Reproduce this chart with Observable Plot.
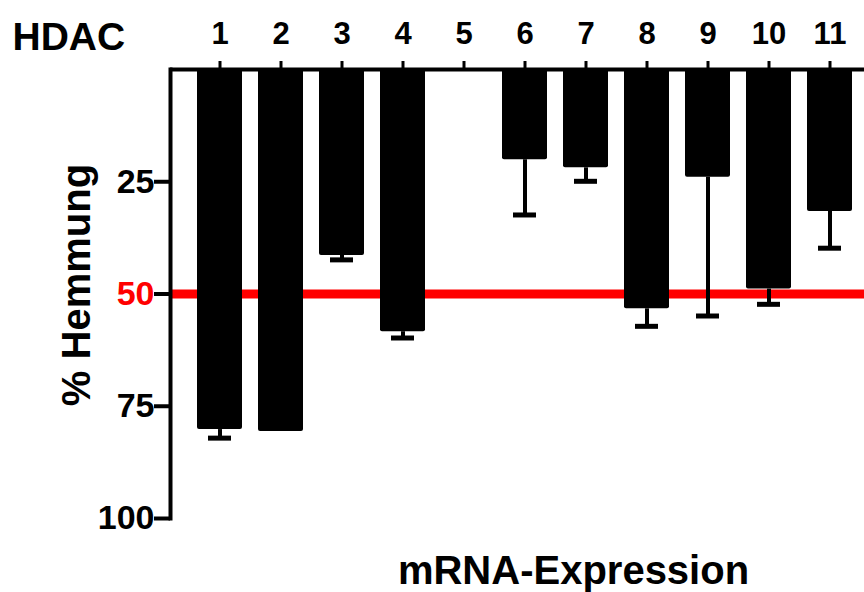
<!DOCTYPE html>
<html>
<head>
<meta charset="utf-8">
<script src="https://cdn.jsdelivr.net/npm/d3@7"></script>
<script src="https://cdn.jsdelivr.net/npm/@observablehq/plot@0.6"></script>
<style>
  html, body { margin: 0; padding: 0; background: #fff; }
</style>
</head>
<body>
<div id="chart"></div>
<script>
// HDAC isoforms along the top axis
const hdac = ["1", "2", "3", "4", "5", "6", "7", "8", "9", "10", "11"];
// mean inhibition of mRNA expression (%)
const hemmung = [80.2, 80.6, 41.4, 58.4, 0, 20.1, 21.9, 53.3, 24.0, 48.9, 31.6];
// error (one-sided, drawn below each bar)
const sem = [1.9, 0, 1.0, 1.4, 0, 12.3, 3.0, 3.9, 30.9, 3.4, 8.2];
const yTicks = [25, 50, 75, 100];
const threshold = 50;

const rows = hdac.map((h, i) => ({hdac: h, value: hemmung[i], err: sem[i]}));
const bars = rows.filter(d => d.value > 0);
const errs = rows.filter(d => d.err > 0);

const bold = {fontWeight: "bold"};

const chart = Plot.plot({
  width: 864,
  height: 592,
  marginLeft: 170,
  marginRight: 0,
  marginTop: 69,
  marginBottom: 74,
  style: {fontFamily: "'Liberation Sans', Arial, Helvetica, sans-serif", background: "white", color: "black"},
  x: {type: "band", domain: hdac, range: [185, 864], paddingInner: 0.26, paddingOuter: 0.13},
  y: {domain: [0, 100], range: [69, 518]},
  marks: [
    Plot.ruleY([threshold], {stroke: "#ff0000", strokeWidth: 9}),
    Plot.barY(bars, {x: "hdac", y1: 0, y2: "value", fill: "black", rx: 2}),
    Plot.ruleX(errs, {x: "hdac", y1: "value", y2: d => d.value + d.err, stroke: "black", strokeWidth: 4}),
    Plot.tickY(errs, {x: "hdac", y: d => d.value + d.err, stroke: "black", strokeWidth: 5, insetLeft: 11, insetRight: 11}),
    Plot.ruleY([0], {stroke: "black", strokeWidth: 4}),
    Plot.frame({anchor: "left", stroke: "black", strokeWidth: 4}),
    Plot.axisX({anchor: "top", tickSize: 9, strokeWidth: 3, tickPadding: 17, fontSize: 31, ...bold, label: null}),
    Plot.axisY({anchor: "left", ticks: yTicks, tickSize: 16, strokeWidth: 4, tickFormat: () => "", label: null}),
    Plot.text(yTicks.filter(t => t !== threshold), {y: d => d, text: d => `${d}`, frameAnchor: "left", dx: -16, textAnchor: "end", lineAnchor: "middle", fontSize: 34, fill: "black", ...bold}),
    Plot.text([threshold], {y: d => d, text: d => `${d}`, frameAnchor: "left", dx: -16, textAnchor: "end", lineAnchor: "middle", fontSize: 34, fill: "#ff0000", ...bold}),
    Plot.text(["HDAC"], {text: d => d, frameAnchor: "top-left", dx: -158, dy: -32, textAnchor: "start", lineAnchor: "middle", fontSize: 39, ...bold}),
    Plot.text(["% Hemmung"], {text: d => d, frameAnchor: "left", dx: -93, dy: -9, rotate: -90, textAnchor: "middle", lineAnchor: "middle", fontSize: 40, ...bold}),
    Plot.text(["mRNA-Expression"], {text: d => d, frameAnchor: "bottom", dx: 56, dy: 53, textAnchor: "middle", lineAnchor: "middle", fontSize: 40, ...bold})
  ]
});

document.getElementById("chart").append(chart);
</script>
</body>
</html>
